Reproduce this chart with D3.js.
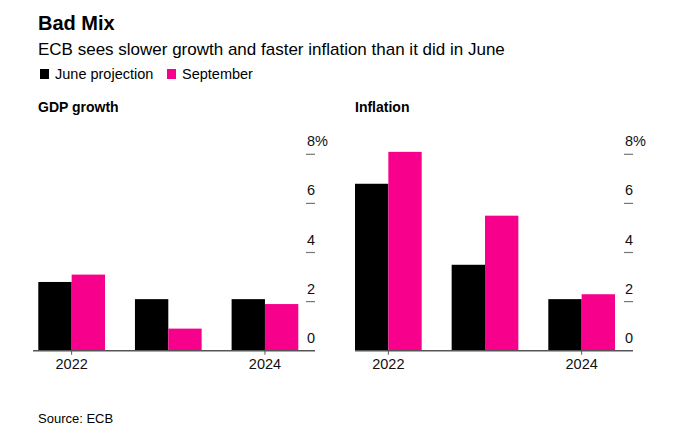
<!DOCTYPE html>
<html>
<head>
<meta charset="utf-8">
<script src="https://cdn.jsdelivr.net/npm/d3@7"></script>
<style>
  body { margin: 0; background: #fff; }
  svg { font-family: "Liberation Sans", Arial, sans-serif; }
</style>
</head>
<body>
<div id="chart"></div>
<script>
const years = ['2022', '2023', '2024']
const yearLabels = ['2022', '2024']
const series = ['June projection', 'September']
const colors = ['#000000', '#f7008c']
const yTicks = [0, 2, 4, 6, 8]

const gdpJune = [2.8, 2.1, 2.1]
const gdpSept = [3.1, 0.9, 1.9]
const inflJune = [6.8, 3.5, 2.1]
const inflSept = [8.1, 5.5, 2.3]

const width = 689
const height = 437

const svg = d3.select('#chart')
  .append('svg')
  .attr('width', width)
  .attr('height', height)

// header
svg.append('text')
  .attr('x', 38)
  .attr('y', 30)
  .attr('font-size', '20px')
  .attr('font-weight', 'bold')
  .text('Bad Mix')

svg.append('text')
  .attr('x', 38)
  .attr('y', 55)
  .attr('font-size', '17px')
  .text('ECB sees slower growth and faster inflation than it did in June')

// legend
const legendX = [40, 167]
series.forEach((s, i) => {
  svg.append('rect')
    .attr('x', legendX[i])
    .attr('y', 69)
    .attr('width', 9)
    .attr('height', 10)
    .attr('fill', colors[i])
  svg.append('text')
    .attr('x', legendX[i] + 15)
    .attr('y', 79)
    .attr('font-size', '14.5px')
    .text(s)
})

svg.append('text')
  .attr('x', 38)
  .attr('y', 423)
  .attr('font-size', '13px')
  .text('Source: ECB')

const y = d3.scaleLinear()
  .domain([0, 8])
  .range([350.7, 154.3])

function drawPanel(opts) {
  const g = svg.append('g')

  g.append('text')
    .attr('x', opts.titleX)
    .attr('y', 112)
    .attr('font-size', '14px')
    .attr('font-weight', 'bold')
    .text(opts.title)

  const x0 = d3.scaleBand()
    .domain(years)
    .range([opts.barStart, opts.barStart + 260])
    .paddingInner(0.31)
    .paddingOuter(0)

  const x1 = d3.scaleBand()
    .domain(series)
    .range([0, x0.bandwidth()])

  const rows = years.map((yr, i) => ({ year: yr, values: [opts.june[i], opts.sept[i]] }))

  const groups = g.selectAll('g.grp')
    .data(rows)
    .enter()
    .append('g')
      .attr('class', 'grp')
      .attr('transform', d => `translate(${x0(d.year)},0)`)

  groups.selectAll('rect')
    .data(d => d.values.map((v, i) => ({ key: series[i], v, i })))
    .enter()
    .append('rect')
      .attr('x', d => x1(d.key))
      .attr('y', d => y(d.v))
      .attr('width', x1.bandwidth())
      .attr('height', d => y(0) - y(d.v))
      .attr('fill', d => colors[d.i])

  // y axis on the right, ticks with labels above
  const tickX = opts.axisEnd - 9
  const yAxis = g.append('g')
  yAxis.selectAll('line')
    .data(yTicks.filter(t => t > 0))
    .enter()
    .append('line')
      .attr('x1', tickX)
      .attr('x2', opts.axisEnd)
      .attr('y1', d => y(d))
      .attr('y2', d => y(d))
      .attr('stroke', '#777')
      .attr('stroke-width', 1.2)
  yAxis.selectAll('text')
    .data(yTicks)
    .enter()
    .append('text')
      .attr('x', tickX + 1)
      .attr('y', d => y(d) - 8)
      .attr('font-size', '14.5px')
      .attr('fill', '#111')
      .text(d => d === 8 ? '8%' : d)

  // baseline
  g.append('line')
    .attr('x1', opts.axisStart)
    .attr('x2', opts.axisEnd)
    .attr('y1', y(0))
    .attr('y2', y(0))
    .attr('stroke', '#555')
    .attr('stroke-width', 1.5)

  // x axis labels
  const xAxis = g.append('g')
    .attr('transform', `translate(0,${y(0)})`)
    .call(d3.axisBottom(x0)
      .tickValues(yearLabels)
      .tickSize(4)
      .tickSizeOuter(0))
  xAxis.select('.domain').remove()
  xAxis.selectAll('.tick line').attr('stroke', '#555')
  xAxis.selectAll('.tick text')
    .attr('font-size', '14.5px')
    .attr('font-family', '"Liberation Sans", Arial, sans-serif')
    .attr('fill', '#111')
    .attr('y', 8)
}

drawPanel({
  title: 'GDP growth', titleX: 38,
  june: gdpJune, sept: gdpSept,
  barStart: 38.3, axisStart: 33, axisEnd: 315
})

drawPanel({
  title: 'Inflation', titleX: 355,
  june: inflJune, sept: inflSept,
  barStart: 355, axisStart: 355, axisEnd: 633
})
</script>
</body>
</html>
